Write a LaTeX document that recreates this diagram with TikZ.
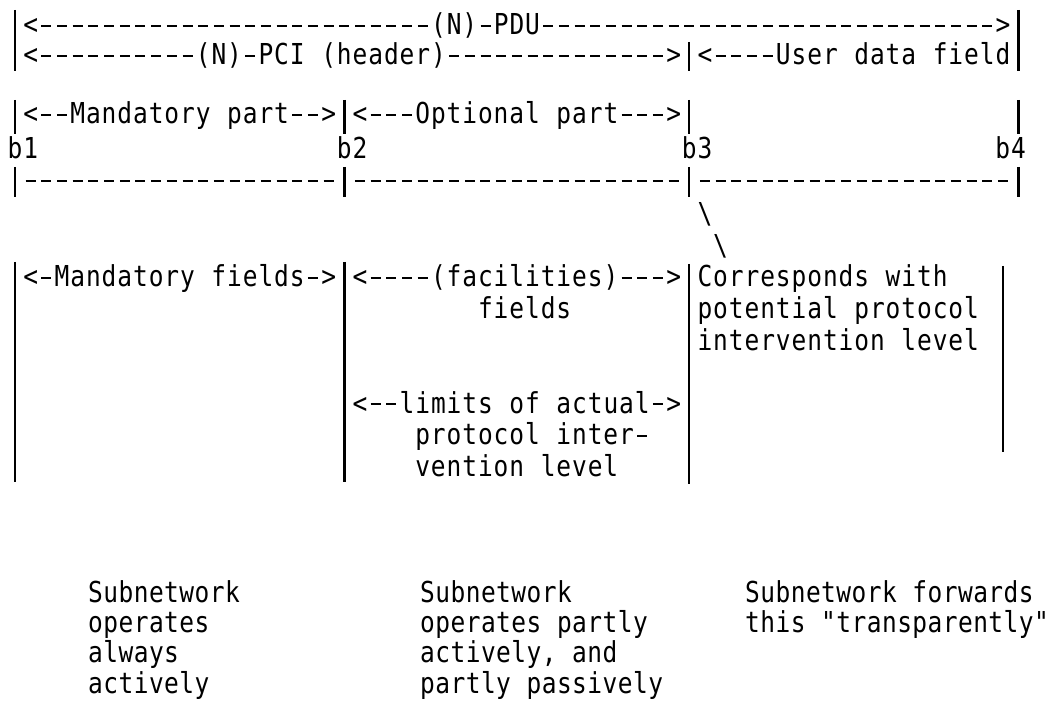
\documentclass[tikz,border=0pt]{standalone}
\usepackage{fontspec}
\setmonofont{DejaVu Sans Mono}[FakeStretch=0.85]
\newlength\mypitch
\setlength\mypitch{0.392cm}
\ExplSyntaxOn
\NewDocumentCommand\ML{m}{\tl_map_inline:nn {#1}{\makebox[\mypitch][c]{\str_if_eq:nnTF{##1}{-}{\rule[0.19cm]{0.25cm}{0.055cm}}{##1}}}}
\ExplSyntaxOff
\newcommand\MLb[1]{{\setlength\mypitch{0.38cm}\ML{#1}}}
\tikzset{
  txt/.style={anchor=base west, inner sep=0pt, outer sep=0pt, font=\ttfamily\fontsize{20.5pt}{24pt}\selectfont},
  bar/.style={line width=1.8pt},
}
\begin{document}
\begin{tikzpicture}[x=0.025cm,y=-0.025cm]
\useasboundingbox (0,0) rectangle (1060,702);
% ---- top rows
\node[txt] (pdu) at ({7.16+15.68*1},35) {\ML{<-------------------------(N)-PDU----------------------------->}};
\node[txt] (pci) at ({7.16+15.68*1},65) {\ML{<----------(N)-PCI~(header)-------------->}};
\node[txt] (udf) at ({7.16+15.68*44},65) {\ML{<----User~data~field}};
\draw[bar] (15,10) -- (15,71);
\draw[bar] (1018.5,10) -- (1018.5,71);
\draw[bar] (689.2,42) -- (689.2,71);
% ---- parts
\node[txt] (mp) at ({7.16+15.68*1},124) {\ML{<--Mandatory~part-->}};
\node[txt] (op) at ({7.16+15.68*22},124) {\ML{<---Optional~part--->}};
\foreach \xx in {15,344.3,689.2,1018.5} {\draw[bar] (\xx,100) -- (\xx,134);}
\node[txt] (b1) at ({7.16+15.68*0},159) {\ML{b1}};
\node[txt] (b2) at ({7.16+15.68*21},159) {\ML{b2}};
\node[txt] (b3) at ({7.16+15.68*43},159) {\ML{b3}};
\node[txt] (b4) at ({7.16+15.68*63},159) {\ML{b4}};
\node[txt] (d1) at ({7.16+15.68*1},190) {\ML{--------------------}};
\node[txt] (d2) at ({7.16+15.68*22},190) {\ML{---------------------}};
\node[txt] (d3) at ({7.16+15.68*44},190) {\ML{--------------------}};
\foreach \xx in {15,344.3,689.2,1018.5} {\draw[bar] (\xx,167) -- (\xx,197);}
\node[txt] (bs1) at ({7.16+15.68*44},224) {\ML{\textbackslash}};
\node[txt] (bs2) at ({7.16+15.68*45},256) {\ML{\textbackslash}};
% ---- fields
\node[txt] (mf) at ({7.16+15.68*1},287) {\ML{<-Mandatory~fields->}};
\node[txt] (ff) at ({7.16+15.68*22},287) {\ML{<----(facilities)--->}};
\node[txt] (ff2) at ({7.16+15.68*30},318.5) {\ML{fields}};
\node[txt] (cw1) at ({7.16+15.68*44},287) {\ML{Corresponds~with}};
\node[txt] (cw2) at ({7.16+15.68*44},318.5) {\ML{potential~protocol}};
\node[txt] (cw3) at ({7.16+15.68*44},350) {\ML{intervention~level}};
\node[txt] (la1) at ({7.16+15.68*22},413) {\ML{<--limits~of~actual->}};
\node[txt] (la2) at ({7.16+15.68*26},444.5) {\ML{protocol~inter-}};
\node[txt] (la3) at ({7.16+15.68*26},476) {\ML{vention~level}};
\draw[bar] (15,262) -- (15,482);
\draw[bar] (344.3,262) -- (344.3,482);
\draw[bar] (689.2,264) -- (689.2,484);
\draw[bar] (1002.8,266) -- (1002.8,452);
% ---- bottom
\node[txt] (s1a) at (88,602) {\MLb{Subnetwork}};
\node[txt] (s1b) at (88,632) {\MLb{operates}};
\node[txt] (s1c) at (88,662) {\MLb{always}};
\node[txt] (s1d) at (88,693) {\MLb{actively}};
\node[txt] (s2a) at (420,602) {\MLb{Subnetwork}};
\node[txt] (s2b) at (420,632) {\MLb{operates~partly}};
\node[txt] (s2c) at (420,662) {\MLb{actively,~and}};
\node[txt] (s2d) at (420,693) {\MLb{partly~passively}};
\node[txt] (s3a) at (745,602) {\MLb{Subnetwork~forwards}};
\node[txt] (s3b) at (745,632) {\MLb{this~"transparently"}};
\end{tikzpicture}
\end{document}
